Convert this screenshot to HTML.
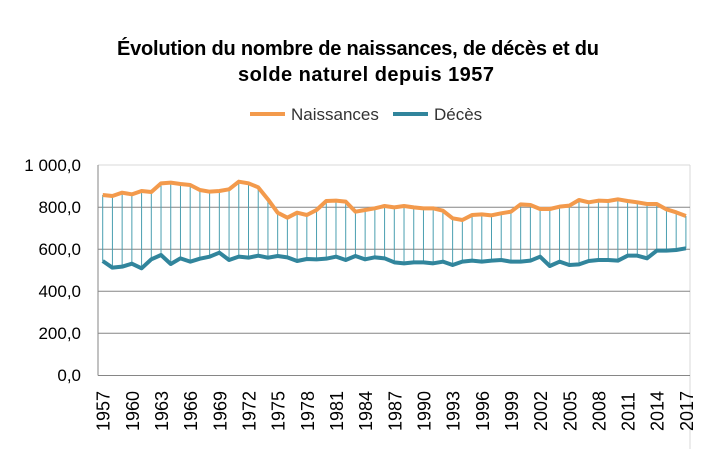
<!DOCTYPE html><html><head><meta charset="utf-8"><style>body{margin:0;background:#fff}svg{display:block}</style></head><body>
<svg id="s" width="720" height="449" xmlns="http://www.w3.org/2000/svg" font-family="Liberation Sans, sans-serif">
<text x="358" y="55" font-size="20" font-weight="bold" text-anchor="middle" fill="#000" textLength="482">Évolution du nombre de naissances, de décès et du</text>
<text x="366" y="81" font-size="20" font-weight="bold" text-anchor="middle" fill="#000" textLength="256">solde naturel depuis 1957</text>
<line x1="250" y1="114" x2="285" y2="114" stroke="#f39a4c" stroke-width="4"/>
<text x="291" y="120" font-size="17" fill="#333">Naissances</text>
<line x1="393" y1="114" x2="428" y2="114" stroke="#31859c" stroke-width="4"/>
<text x="434" y="120" font-size="17" fill="#333">Décès</text>
<line x1="98" y1="165" x2="690" y2="165" stroke="#d9d9d9"/>
<line x1="690" y1="165" x2="690" y2="449" stroke="#d9d9d9"/>
<g stroke="#868686" stroke-width="1">
<line x1="98" y1="207.3" x2="690" y2="207.3"/><line x1="98" y1="249.3" x2="690" y2="249.3"/><line x1="98" y1="291.3" x2="690" y2="291.3"/><line x1="98" y1="333.3" x2="690" y2="333.3"/><line x1="98" y1="375.5" x2="690" y2="375.5"/><line x1="98" y1="165" x2="98" y2="375.5"/>
</g>
<g font-size="17" fill="#000" text-anchor="end">
<text x="81" y="171">1 000,0</text><text x="81" y="213">800,0</text><text x="81" y="255">600,0</text><text x="81" y="297">400,0</text><text x="81" y="339">200,0</text><text x="81" y="381">0,0</text>
</g>
<g id="drops"></g><g id="xl" font-size="18" fill="#000"></g>
<polyline id="b" fill="none" stroke="#f39a4c" stroke-width="4" stroke-linejoin="round"/>
<polyline id="d" fill="none" stroke="#31859c" stroke-width="4" stroke-linejoin="round"/>
</svg>
<script>
var NS='http://www.w3.org/2000/svg';
var ob=[105,108,98,103,93,96,70,68,72,75,90,95,93,88,65,70,82,118,158,173,158,165,150,123,122,125,155,150,145,138,142,138,142,145,145,152,175,180,165,163,166,160,155,133,135,147,147,140,137,120,127,122,123,118,123,127,132,132,148,157,168];
var td=[303,323,320,311,325,298,285,312,295,305,296,290,278,300,290,293,287,293,288,292,303,297,298,296,290,300,288,298,292,295,307,310,307,307,310,305,315,305,302,305,302,300,305,305,302,290,318,305,315,313,303,300,300,302,287,287,295,272,272,270,265];
var pb=[],pd=[],G=document.getElementById('drops'),X=document.getElementById('xl');
for(var i=0;i<61;i++){var x=102.7+i*9.72,yb=160+ob[i]/3,yd=160+td[i]/3;pb.push(x+','+yb);pd.push(x+','+yd);
var l=document.createElementNS(NS,'line');l.setAttribute('x1',x);l.setAttribute('x2',x);l.setAttribute('y1',yb);l.setAttribute('y2',yd);l.setAttribute('stroke','#4a9fb0');l.setAttribute('stroke-width','1');G.appendChild(l);
if(i%3==0){var t=document.createElementNS(NS,'text');t.setAttribute('transform','translate('+(x+7)+',431) rotate(-90)');t.textContent=String(1957+i);X.appendChild(t);}}
document.getElementById('b').setAttribute('points',pb.join(' '));
document.getElementById('d').setAttribute('points',pd.join(' '));
</script>
</body></html>
